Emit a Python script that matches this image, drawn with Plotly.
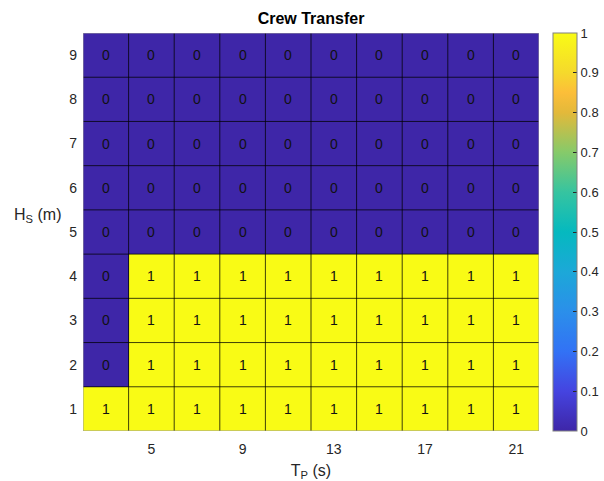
import plotly.graph_objects as go

# Data
tp_values = [3, 5, 7, 9, 11, 13, 15, 17, 19, 21]          # T_P (s) columns
hs_values = [1, 2, 3, 4, 5, 6, 7, 8, 9]                   # H_S (m) rows
row_1 = [1, 1, 1, 1, 1, 1, 1, 1, 1, 1]
row_2 = [0, 1, 1, 1, 1, 1, 1, 1, 1, 1]
row_3 = [0, 1, 1, 1, 1, 1, 1, 1, 1, 1]
row_4 = [0, 1, 1, 1, 1, 1, 1, 1, 1, 1]
row_5 = [0, 0, 0, 0, 0, 0, 0, 0, 0, 0]
row_6 = [0, 0, 0, 0, 0, 0, 0, 0, 0, 0]
row_7 = [0, 0, 0, 0, 0, 0, 0, 0, 0, 0]
row_8 = [0, 0, 0, 0, 0, 0, 0, 0, 0, 0]
row_9 = [0, 0, 0, 0, 0, 0, 0, 0, 0, 0]
x_tick_vals = [5, 9, 13, 17, 21]
cb_tick_vals = [0, 0.1, 0.2, 0.3, 0.4, 0.5, 0.6, 0.7, 0.8, 0.9, 1]
cb_tick_text = ["0", "0.1", "0.2", "0.3", "0.4", "0.5", "0.6", "0.7", "0.8", "0.9", "1"]
z = [row_1, row_2, row_3, row_4, row_5, row_6, row_7, row_8, row_9]

parula = [
    [0.0, "#3e26a8"],
    [0.1, "#4544e0"],
    [0.2, "#3272f5"],
    [0.3, "#2b8fea"],
    [0.4, "#1ca8d8"],
    [0.5, "#05b9bf"],
    [0.6, "#36c4a0"],
    [0.7, "#86ca6a"],
    [0.8, "#e3b93a"],
    [0.85, "#fcbe39"],
    [0.9, "#f5d92c"],
    [1.0, "#f9fb15"],
]

font_family = "Liberation Sans, Arial, sans-serif"
txt_color = "#262626"

L, R, T, B = 83, 65, 33, 50
W, H = 604, 481
plot_w = W - L - R
plot_h = H - T - B

fig = go.Figure()
fig.add_trace(go.Heatmap(
    x=tp_values, y=hs_values, z=z,
    colorscale=parula, zmin=0, zmax=1,
    texttemplate="%{z}",
    textfont=dict(family=font_family, size=14, color="#111111"),
    hoverinfo="skip",
    colorbar=dict(
        x=(553 - L) / plot_w, xanchor="left", xpad=0, y=0.5, yanchor="middle",
        len=1, lenmode="fraction", ypad=0,
        thickness=24, thicknessmode="pixels",
        outlinecolor="#808080", outlinewidth=1,
        tickvals=cb_tick_vals, ticktext=cb_tick_text,
        ticks="inside", ticklen=4, tickcolor="#262626",
        tickfont=dict(family=font_family, size=13, color=txt_color),
    ),
))

# cell borders derived from data positions
x_edges = [v - 1 for v in tp_values] + [tp_values[-1] + 1]
y_edges = [v - 0.5 for v in hs_values] + [hs_values[-1] + 0.5]
shapes = []
for xe in x_edges[1:-1]:
    shapes.append(dict(type="line", xref="x", yref="y", x0=xe, x1=xe,
                       y0=y_edges[0], y1=y_edges[-1],
                       line=dict(color="rgba(0,0,0,0.75)", width=1)))
for ye in y_edges[1:-1]:
    shapes.append(dict(type="line", xref="x", yref="y", x0=x_edges[0], x1=x_edges[-1],
                       y0=ye, y1=ye,
                       line=dict(color="rgba(0,0,0,0.75)", width=1)))
shapes.append(dict(type="rect", xref="x", yref="y", x0=x_edges[0], x1=x_edges[-1],
                   y0=y_edges[0], y1=y_edges[-1],
                   line=dict(color="#9a9a9a", width=1)))

fig.update_layout(
    width=W, height=H,
    margin=dict(l=L, r=R, t=T, b=B, autoexpand=False),
    paper_bgcolor="white", plot_bgcolor="white",
    font=dict(family=font_family, color=txt_color),
    title=dict(text="<b>Crew Transfer</b>", x=(L + plot_w / 2) / W, xanchor="center",
               y=1 - 18 / H, yanchor="middle",
               font=dict(size=16, color="#000000", family=font_family)),
    shapes=shapes,
    xaxis=dict(range=[x_edges[0], x_edges[-1]], tickvals=x_tick_vals,
               showgrid=False, zeroline=False, ticks="", showline=False,
               tickfont=dict(size=14, color=txt_color), ticklabelstandoff=8,
               title=dict(text="T<sub>P</sub> (s)", font=dict(size=16, color=txt_color), standoff=8)),
    yaxis=dict(range=[y_edges[0], y_edges[-1]], tickvals=hs_values,
               showgrid=False, zeroline=False, ticks="", showline=False,
               tickfont=dict(size=14, color=txt_color), ticklabelstandoff=5),
    annotations=[dict(text="H<sub>S</sub> (m)", xref="paper", yref="paper",
                      x=(37 - L) / plot_w, y=(H - B - 215) / plot_h,
                      xanchor="center", yanchor="middle", showarrow=False,
                      font=dict(size=16, color=txt_color, family=font_family))],
)

fig.write_html("out.html", config={"displayModeBar": False},
               post_script="document.body.style.margin='0';document.body.style.overflow='hidden';")
